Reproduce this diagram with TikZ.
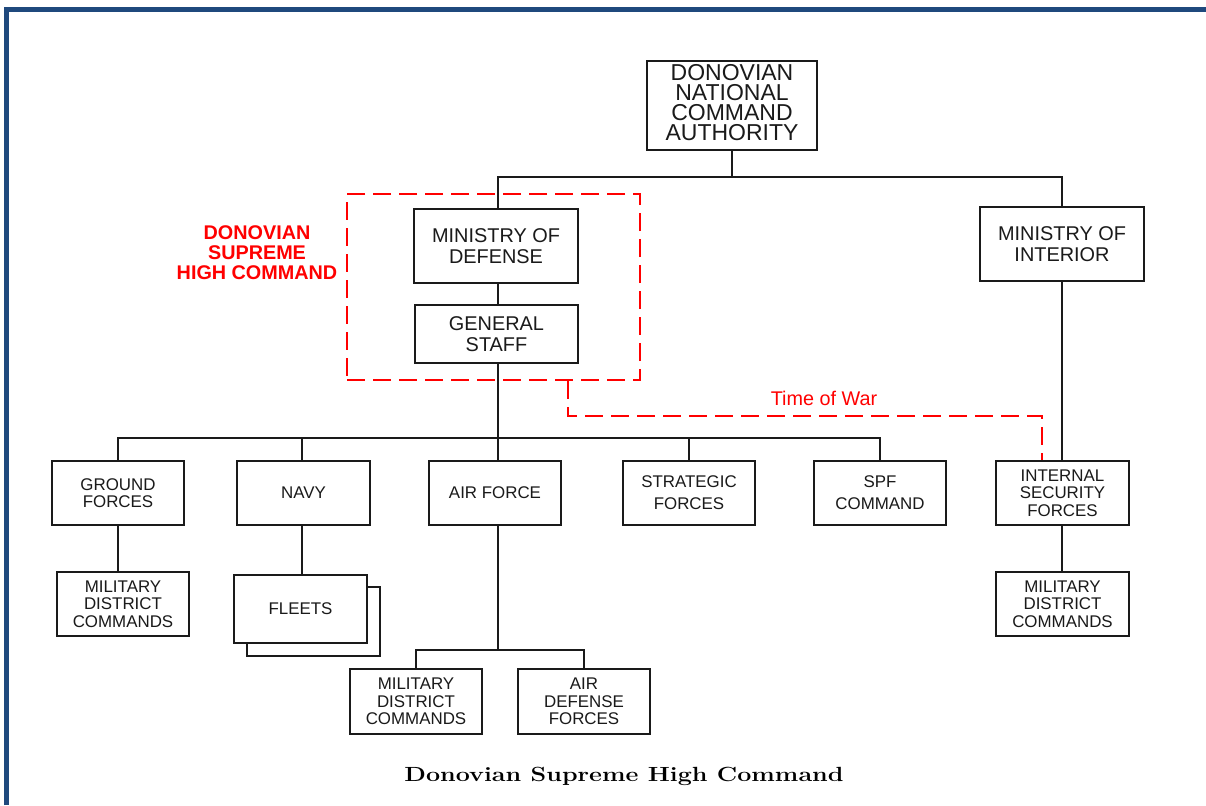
\documentclass[tikz,border=0pt]{standalone}
\usepackage{fontspec}
\newfontfamily\arial{Liberation Sans}
\definecolor{frameblue}{HTML}{1F497D}
\definecolor{warred}{HTML}{FF0000}
\definecolor{ink}{HTML}{1A1A1A}
\newcommand\orgbox[7]{\node[box,#1,minimum width={#4-#2},minimum height={#5-#3}] (#6) at ({(#2+#4)/2},{(#3+#5)/2}) {#7};}
\begin{document}
\begin{tikzpicture}[x=1pt,y=-1pt,
  box/.style={draw=ink,line width=1.4pt,fill=white,inner sep=0pt,align=center,text=ink},
  bigtxt/.style={font=\arial\fontsize{23}{19.8}\selectfont,text depth=6pt},
  midtxt/.style={font=\arial\fontsize{19.9}{21.5}\selectfont},
  smalltxt/.style={font=\arial\fontsize{16.9}{17.5}\selectfont},
  widetxt/.style={font=\arial\fontsize{16.9}{22}\selectfont},
  link/.style={draw=ink,line width=1.5pt},
  reddash/.style={draw=warred,line width=2pt,dash pattern=on 18pt off 8pt},
  redlabel/.style={text=warred,align=center,inner sep=0pt},
]
\useasboundingbox (0,0) rectangle (1206,805);
\draw[frameblue,line width=5pt] (6,805) -- (6,9.5) -- (1206,9.5);

% red dashed group
\node[reddash,minimum width=293,minimum height=186,inner sep=0pt] (shc) at (493.5,287) {};

\orgbox{bigtxt}{647}{61}{817}{150}{nca}{DONOVIAN\\NATIONAL\\COMMAND\\AUTHORITY}
\orgbox{midtxt}{414}{209}{578}{283}{mod}{MINISTRY OF\\DEFENSE}
\orgbox{midtxt}{415}{305}{578}{363}{gs}{GENERAL\\STAFF}
\orgbox{midtxt}{980}{207}{1144}{281}{moi}{MINISTRY OF\\INTERIOR}
\orgbox{smalltxt}{52}{461}{184}{525}{gf}{GROUND\\FORCES}
\orgbox{smalltxt}{237}{461}{370}{525}{navy}{NAVY}
\orgbox{smalltxt}{429}{461}{561}{525}{af}{AIR FORCE}
\orgbox{widetxt}{623}{461}{755}{525}{sf}{STRATEGIC\\FORCES}
\orgbox{widetxt}{814}{461}{946}{525}{spf}{SPF\\COMMAND}
\orgbox{smalltxt}{996}{461}{1129}{525}{isf}{INTERNAL\\SECURITY\\FORCES}
\orgbox{smalltxt}{57}{572}{189}{636}{mdca}{MILITARY\\DISTRICT\\COMMANDS}
\orgbox{smalltxt}{247}{587}{380}{656}{fleetsback}{}
\orgbox{smalltxt}{234}{575}{367}{643}{fleets}{FLEETS}
\orgbox{smalltxt}{350}{669}{482}{734}{mdcb}{MILITARY\\DISTRICT\\COMMANDS}
\orgbox{smalltxt}{518}{669}{650}{734}{adf}{AIR\\DEFENSE\\FORCES}
\orgbox{smalltxt}{996}{572}{1129}{636}{mdcc}{MILITARY\\DISTRICT\\COMMANDS}

% connectors
\coordinate (top) at (0,177);
\coordinate (bus) at (0,438);
\coordinate (bus2) at (0,650);
\coordinate (trunk) at (498,0);
\coordinate (navyx) at (302,0);
\coordinate (rightx) at (1062,0);
\draw[link] (nca.south) -- (nca.south |- top);
\draw[link] (mod.north -| trunk) -- (trunk |- top) -- (moi.north |- top) -- (moi.north);
\draw[link] (mod.south -| trunk) -- (gs.north -| trunk);
\draw[link] (gs.south -| trunk) -- (af.north -| trunk);
\draw[link] (gf.north) -- (gf.north |- bus) -- (spf.north |- bus) -- (spf.north);
\draw[link] (navy.north -| navyx) -- (navyx |- bus);
\draw[link] (sf.north) -- (sf.north |- bus);
\draw[link] (moi.south -| rightx) -- (isf.north -| rightx);
\draw[link] (gf.south) -- (gf.south |- mdca.north);
\draw[link] (navy.south -| navyx) -- (fleets.north -| navyx);
\draw[link] (af.south -| trunk) -- (trunk |- bus2);
\draw[link] (mdcb.north) -- (mdcb.north |- bus2) -- (adf.north |- bus2) -- (adf.north);
\draw[link] (isf.south -| rightx) -- (mdcc.north -| rightx);

% time of war
\coordinate (w1) at (568,416);
\coordinate (w2) at (1042,416);
\draw[reddash] (shc.south -| w1) -- (w1) -- (w2) -- (w2 |- isf.north);
\node[redlabel,font=\arial\fontsize{19.8}{20}\selectfont] (tow) at (824,398) {Time of War};
\node[redlabel,font=\arial\bfseries\fontsize{19.8}{20}\selectfont] (shclabel) at (257,253) {DONOVIAN\\SUPREME\\HIGH COMMAND};

% caption
\node[inner sep=0pt,text=black,font=\bfseries\fontsize{20.5}{24}\selectfont] (caption) at (624,776) {\scalebox{1.223}[1]{Donovian Supreme High Command}};
\end{tikzpicture}
\end{document}
